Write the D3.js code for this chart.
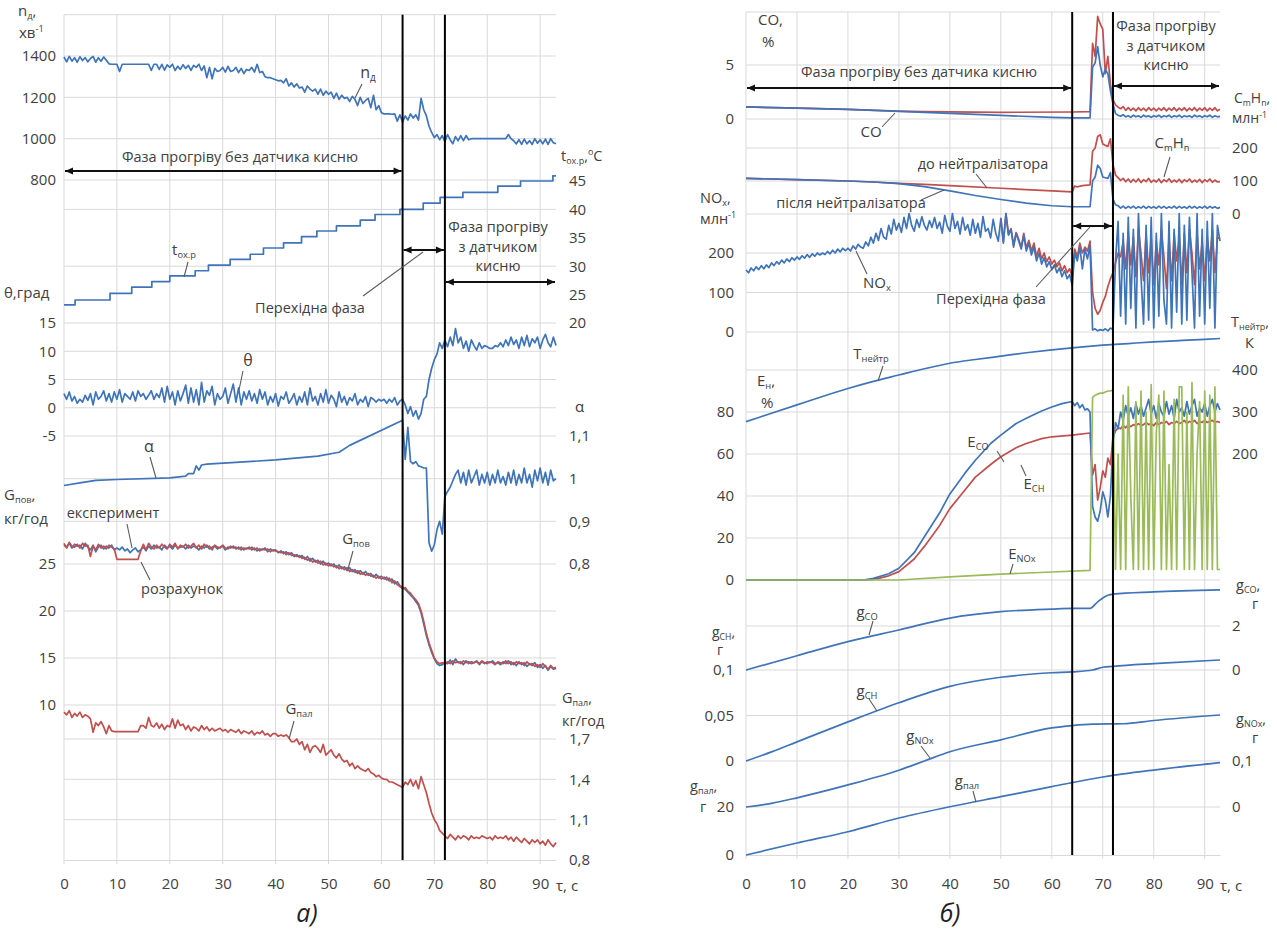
<!DOCTYPE html>
<html><head><meta charset="utf-8">
<script src="https://cdn.jsdelivr.net/npm/d3@7"></script>
<style>
body{margin:0;background:#fff}
svg text{font-family:"Open Sans",sans-serif}
</style></head>
<body><svg id="chart" width="1277" height="941"></svg>
<script>
// ================= DATA =================
const tauTicks=[0,10,20,30,40,50,60,70,80,90];
const phaseTimes=[64,72];
// ---- panel a) ----
const nTicks=[800,1000,1200,1400];
const tTicks=[20,25,30,35,40,45];
const thTicks=[-5,0,5,10,15];
const aTicks=[0.8,0.9,1,1.1];
const gTicks=[10,15,20,25];
const gpTicks=[0.8,1.1,1.4,1.7];
// n_д, 0.5 s step from 0 s
const nD=[1395,1372,1398,1375,1392,1370,1396,1378,1392,1372,
1388,1398,1370,1392,1375,1395,1380,1362,1360,1360,
1360,1325,1360,1360,1360,1360,1360,1360,1360,1360,
1360,1360,1360,1330,1360,1360,1335,1360,1332,1357,
1345,1360,1330,1350,1335,1358,1340,1355,1330,1355,
1345,1360,1330,1352,1295,1345,1290,1340,1325,1330,
1345,1322,1350,1325,1330,1345,1320,1340,1315,1335,
1330,1345,1322,1360,1320,1325,1300,1295,1295,1290,
1285,1280,1282,1270,1290,1255,1270,1250,1265,1245,
1250,1225,1255,1240,1230,1240,1215,1240,1210,1230,
1215,1225,1195,1220,1190,1210,1195,1200,1180,1205,
1190,1160,1200,1170,1185,1195,1150,1210,1140,1160,
1125,1120,1120,1120,1118,1120,1085,1115,1080,1110,
1090,1120,1100,1115,1090,1195,1140,1110,1060,1030,
1005,1020,995,1015,985,1020,995,975,1010,990,
1015,990,1015,995,1000,1000,1000,1000,1000,1000,
1000,1000,1000,1000,1000,1000,1000,1000,1020,1000,
990,975,995,972,998,975,990,972,1000,978,
995,975,998,972,1000,980,975];
// t_ох.р staircase
const tOxT=[0,2.1,8.7,12.8,16.6,20,24.8,27.3,31.4,35.2,37.7,41.5,44.9,47.8,51.5,56,58.8,63.5,67.9,71.1,75.4,82,86.3,92.4,93];
const tOxV=[23.2,24.05,25.2,26.3,27.3,28.3,29.2,30.2,31.2,32.1,33.2,34.1,35.2,36.2,37.1,38.1,39.1,40,41.1,42.1,43,44.1,45,45.9,45.9];
// θ, 0.5 s step
const theta=[2.5,1.5,2.8,1.2,2.0,0.8,1.5,1.0,2.2,1.3,
2.5,0.5,2.8,1.5,2.0,3.0,1.2,2.5,1.0,2.8,
1.5,3.2,1.0,2.5,2.0,1.5,2.8,1.2,3.0,2.0,
2.5,1.5,2.2,3.0,1.5,2.5,1.8,3.5,1.0,3.8,
1.5,2.8,0.5,3.0,1.2,2.5,4.0,0.8,3.5,1.0,
3.2,0.5,4.5,1.0,3.0,2.2,3.8,0.5,2.5,1.5,
2.0,3.5,0.8,2.5,4.2,1.0,3.5,0.5,2.8,1.5,
3.0,1.2,2.5,0.8,3.2,1.5,2.8,0.5,2.0,1.0,
2.5,0.3,2.0,1.5,2.8,0.8,1.5,2.5,0.5,2.0,
1.0,2.8,0.5,3.5,1.2,2.0,0.5,2.5,1.0,3.2,
0.8,2.2,1.5,0.2,2.8,1.0,2.0,0.5,1.8,1.2,
2.5,0.5,1.5,1.0,2.0,0.2,1.8,1.5,1.0,1.5,
1.2,1.5,0.8,1.5,1.0,1.8,0.5,1.2,1.5,0.5,
-1.0,0.2,-1.5,-0.5,-2.0,-1.0,1.5,2.0,5.0,7.0,
8.5,9.5,11.5,10.5,12.0,10.8,12.5,11.0,14.0,11.5,
12.5,10.5,11.8,10.0,12.0,11.0,10.2,11.5,10.5,11.0,
10.8,10.5,10.5,11.0,10.8,11.5,10.8,12.0,11.0,12.5,
11.2,12.0,10.5,12.5,11.0,12.8,10.8,12.2,11.5,12.5,
10.5,12.0,13.0,11.5,10.8,12.5,11.0];
// α: smooth part (τ, α) then 0.5 s from 64.5 s
const alphaSmooth=[[0,0.984],[3,0.99],[6,0.996],[10,0.998],[20,1.002],[23,1.006],[23.5,1.012],[24.5,1.012],[25,1.03],[25.5,1.02],[26,1.032],[27,1.034],[40,1.044],[48,1.053],[52,1.062],[54,1.078],[64,1.137]];
const alphaNoisy=[1.045,1.12,1.04,1.035,1.04,1.03,1.028,1.025,1.025,0.85,
0.83,0.845,0.88,0.9,0.87,0.958,0.97,0.98,0.995,1.01,
1.02,0.99,1.015,0.985,1.02,0.99,1.005,1.02,0.985,1.01,
0.99,1.015,0.985,1.01,0.99,1.02,0.99,1.005,0.985,1.015,
0.99,1.02,0.985,1.01,0.99,1.025,0.99,1.01,0.98,1.02,
0.995,1.025,0.99,1.015,0.985,1.02,0.995,1.0];
// G_пов experiment (blue) and calculation (red), 0.5 s
const gExp=[27.0,26.8,27.2,26.7,27.1,26.9,27.0,26.6,27.2,26.8,
26.5,27.0,26.3,26.8,27.0,26.6,26.9,26.7,27.0,26.5,
26.7,26.5,26.8,26.4,26.6,26.2,26.5,26.7,26.3,26.5,
26.8,26.4,26.9,26.6,27.0,26.7,26.8,26.5,27.0,26.7,
26.9,26.6,27.0,26.7,26.8,26.9,26.6,27.0,26.7,26.9,
26.8,26.5,26.9,26.7,27.0,26.6,26.8,26.9,26.6,26.8,
26.9,26.5,26.8,26.7,26.9,26.6,26.8,26.5,26.7,26.6,
26.8,26.5,26.7,26.4,26.6,26.5,26.7,26.3,26.6,26.4,
26.5,26.2,26.4,26.1,26.3,26.0,26.2,25.8,26.0,25.7,
25.9,25.5,25.8,25.3,25.6,25.2,25.4,25.0,25.3,24.9,
25.1,24.8,25.0,24.6,24.9,24.5,24.7,24.3,24.6,24.2,
24.4,24.0,24.3,23.9,24.2,23.8,24.0,23.6,23.9,23.5,
23.7,23.4,23.6,23.2,23.4,22.9,23.1,22.7,22.5,22.3,
22.0,21.7,21.4,21.0,20.6,19.8,18.6,17.4,16.4,15.6,
14.9,14.4,14.2,14.3,14.6,14.4,14.8,14.3,14.9,14.5,
14.6,14.3,14.7,14.4,14.6,14.5,14.7,14.3,14.6,14.4,
14.6,14.5,14.7,14.4,14.5,14.3,14.6,14.4,14.7,14.3,
14.5,14.2,14.6,14.3,14.5,14.1,14.4,14.2,14.5,14.0,
14.3,13.9,14.2,13.7,14.1,13.8,13.9];
const gCalc=[27.2,26.7,27.3,26.9,26.8,27.1,26.7,27.2,26.9,27.0,
25.8,26.9,26.5,27.1,26.7,26.9,26.6,27.0,26.8,26.6,
25.5,25.5,25.5,25.5,25.5,25.5,25.5,25.5,25.5,26.4,
27.1,26.5,27.2,26.8,26.6,27.0,26.7,27.1,26.8,26.6,
27.1,26.8,27.2,26.6,27.0,26.8,27.1,26.7,26.9,27.2,
26.7,27.0,26.6,27.1,26.8,26.9,26.5,27.0,26.8,26.7,
27.0,26.7,26.6,26.9,26.7,26.8,26.6,26.8,26.5,26.7,
26.6,26.8,26.5,26.7,26.4,26.6,26.5,26.6,26.3,26.5,
26.4,26.3,26.2,26.3,26.0,26.2,25.9,26.0,25.8,25.9,
25.6,25.7,25.4,25.6,25.2,25.4,25.1,25.3,24.9,25.1,
24.8,25.0,24.7,24.8,24.5,24.7,24.4,24.6,24.2,24.4,
24.1,24.3,23.9,24.1,23.8,24.0,23.7,23.8,23.5,23.7,
23.4,23.6,23.3,23.5,23.0,23.2,22.8,22.6,22.4,22.5,
22.1,21.9,21.5,21.2,20.8,20.0,18.9,17.6,16.6,15.8,
15.0,14.6,14.4,14.5,14.3,14.6,14.4,14.7,14.5,14.6,
14.4,14.7,14.5,14.6,14.4,14.5,14.6,14.4,14.7,14.5,
14.4,14.6,14.5,14.3,14.6,14.5,14.4,14.7,14.4,14.6,
14.3,14.6,14.4,14.5,14.2,14.6,14.3,14.4,14.1,14.3,
14.0,14.4,14.1,13.8,14.2,13.9,14.0];
// G_пал, 0.5 s
const gPal=[1.90,1.88,1.91,1.86,1.89,1.87,1.90,1.86,1.88,1.87,
1.85,1.75,1.82,1.80,1.83,1.79,1.74,1.80,1.76,1.755,
1.755,1.755,1.755,1.755,1.755,1.755,1.755,1.755,1.755,1.80,
1.80,1.78,1.86,1.80,1.79,1.82,1.78,1.81,1.77,1.80,
1.79,1.85,1.78,1.84,1.80,1.81,1.77,1.80,1.76,1.79,
1.78,1.76,1.80,1.77,1.79,1.76,1.78,1.76,1.77,1.78,
1.76,1.77,1.75,1.77,1.76,1.75,1.77,1.74,1.76,1.75,
1.74,1.76,1.73,1.75,1.74,1.76,1.73,1.74,1.72,1.74,
1.74,1.72,1.73,1.72,1.73,1.71,1.68,1.68,1.70,1.66,
1.68,1.62,1.66,1.60,1.64,1.65,1.63,1.60,1.66,1.58,
1.60,1.62,1.58,1.56,1.59,1.55,1.53,1.54,1.50,1.52,
1.48,1.50,1.48,1.47,1.46,1.48,1.45,1.44,1.42,1.43,
1.41,1.40,1.40,1.38,1.38,1.37,1.36,1.35,1.34,1.38,
1.36,1.40,1.35,1.39,1.33,1.42,1.36,1.30,1.22,1.15,
1.10,1.07,1.02,1.00,0.98,0.96,0.99,0.97,0.95,0.98,
0.96,0.98,0.97,0.95,0.98,0.96,0.97,0.96,0.98,0.97,
0.96,0.97,0.95,0.98,0.96,0.97,0.96,0.98,0.95,0.97,
0.94,0.97,0.95,0.93,0.96,0.94,0.92,0.95,0.93,0.95,
0.92,0.94,0.91,0.95,0.92,0.90,0.93];
// ---- panel б) ----
const coTicks=[0,5];
const chTicks=[0,100,200];
const noxTicks=[0,100,200];
const tnTicks=[200,300,400];
const eTicks=[0,20,40,60,80];
const gcoTicks=[0,2];
const gchTicks=[0,0.05,0.1];
const gnoxTicks=[0,0.1];
const gpalTicks=[0,20];
// CO, %: smooth part then 0.5 s from 68 s
const coAfterSmooth=[[0,1.12],[10,1.0],[20,0.9],[30,0.7],[40,0.52],[50,0.33],[60,0.15],[64,0.1],[67.5,0.1]];
const coBeforeSmooth=[[0,1.12],[10,1.0],[20,0.9],[30,0.72],[35,0.68],[50,0.62],[64,0.65],[67.5,0.68]];
const coAfterNoisy=[4.8,5.2,6.7,5.0,3.9,4.6,4.2,2.6,1.4,0.5,
0.35,0.25,0.4,0.2,0.3,0.15,0.35,0.2,0.3,0.15,
0.35,0.2,0.3,0.15,0.3,0.2,0.35,0.15,0.3,0.2,
0.35,0.15,0.3,0.2,0.35,0.15,0.3,0.2,0.3,0.15,
0.35,0.2,0.3,0.15,0.3,0.2,0.35,0.15,0.3,0.2,0.25];
const coBeforeNoisy=[7.0,5.8,9.5,8.8,8.3,4.2,5.8,3.2,1.8,1.3,
1.1,0.95,1.15,0.8,1.05,0.8,1.0,0.75,1.05,0.8,
1.0,0.75,1.05,0.8,1.0,0.75,1.0,0.8,1.05,0.75,
1.0,0.8,1.05,0.75,1.0,0.8,1.05,0.75,1.0,0.8,
1.05,0.75,1.0,0.8,1.05,0.75,1.0,0.8,1.05,0.75,0.9];
// CmHn, млн-1
const chAfterSmooth=[[0,108],[10,104],[20,100],[25,97],[30,92],[35,83],[40,70],[45,56],[50,44],[55,33],[60,25],[64,22],[67.5,22]];
const chBeforeSmooth=[[0,108],[10,104],[20,100],[25,97],[30,93],[35,90],[40,86],[50,78],[60,70],[64,67],[64.5,85],[65,82],[66,86],[67.5,88]];
const chAfterNoisy=[100,112,148,138,112,110,108,125,45,28,
25,18,24,17,23,18,24,17,22,18,
24,17,23,18,22,17,24,18,23,17,
22,18,24,17,23,18,22,17,24,18,
23,17,22,18,24,17,23,18,22,17,20];
const chBeforeNoisy=[190,200,235,240,212,208,205,228,150,118,
110,102,108,98,106,96,105,97,107,95,
104,98,108,96,103,97,106,95,104,98,
107,96,103,97,105,95,104,98,106,96,
103,97,105,95,104,98,106,96,103,97,98];
// NOx after converter (blue), 0.5 s from 0 s; before converter (red), 0.5 s from 50 s
const noxAfter=[157,150,162,155,165,158,168,160,170,163,
175,168,178,172,182,175,185,178,188,182,
190,184,193,187,196,189,198,192,200,195,
200,196,204,198,207,200,210,203,212,206,
212,205,218,210,222,215,212,228,218,240,
225,250,232,262,240,235,270,248,285,258,
275,252,290,262,300,270,255,285,265,292,
270,258,282,265,290,262,278,250,295,268,
255,300,262,280,248,290,258,272,245,285,
250,275,240,292,255,262,238,285,250,230,
288,225,300,245,260,215,250,230,210,245,
205,225,195,215,180,200,172,188,165,178,
158,170,150,162,140,155,135,145,118,200,
180,215,160,210,185,220,5,8,3,6,
4,8,3,10,6,180,280,40,250,20,
290,60,260,10,300,140,20,270,30,290,
10,250,40,300,80,20,280,10,260,50,
300,20,270,30,290,150,10,300,40,260,
20,280,60,300,10,270,230];
const noxBefore=[288,228,300,248,262,220,252,235,215,250,
212,232,205,225,192,212,185,200,178,190,
172,182,165,175,155,168,150,160,140,210,
190,225,200,215,205,230,100,60,45,55,
75,90,115,135,150,175,200,190,230,160,
250,170,240,140,260,200,130,250,150,240,
120,230,170,260,190,110,240,130,250,180,
240,120,250,150,260,200,120,250,160,230,
130,240,180,260,150,240,235];
// T_нейтр, K
const tNeutr=[[0,277],[5,297],[10,317],[15,337],[20,356],[25,373],[30,388],[35,403],[40,416],[45,425],[50,433],[55,441],[60,448],[65,454],[70,459],[75,463],[80,467],[85,470],[90,473],[93,475]];
// E_CO, E_CH, E_NOx, %
const eCOSmooth=[[0,0],[23,0],[25,0.8],[28,3],[30,5.6],[33,13],[35,20.6],[38,32],[40,41],[43,51],[45,57],[48,65],[50,69],[53,74.5],[55,77],[58,80.5],[60,82.4],[62,84],[64,85]];
const eCONoisy=[83,84.5,82,83.5,81,81.5,80,35,30,28,
33,42,38,30,40,65,75,72,80,76,
83,78,82,77,84,79,83,78,82,86,
79,83,77,84,80,78,85,79,83,77,
86,80,82,78,85,79,83,86,78,82,
80,84,78,83,86,80,84,81];
const eCHSmooth=[[0,0],[24,0],[26,0.8],[28,2],[30,4],[33,10],[35,16],[38,26],[40,34],[43,43],[45,49],[48,55],[50,58.7],[53,63],[55,65],[58,67.3],[60,68.2],[64,69],[67.5,70]];
const eCHNoisy=[50,55,38,44,52,49,58,55,68,71,
72.5,72,73.5,72.5,74,73,74,73.5,74.5,73.5,
74,75,74,74.5,73.5,75,74,75,74.5,75.5,
74,75,74.5,75.5,74.5,75,76,74.5,75.5,75,
76,74.5,75.5,75,76,75,75.5,76,75,75.5,75];
const eNOxSmooth=[[0,0],[30,0],[40,1.5],[50,2.8],[60,3.8],[67.5,4.6]];
const eNOxNoisy=[87,88,88.5,89,89,89.5,90,90,90.5,5,
60,5,88,5,92,40,5,85,5,90,
5,80,5,93,5,70,88,5,90,5,
55,5,86,5,92,92,5,80,5,94,
5,60,85,5,90,5,88,5,92,5,5];
// cumulative emissions, г
const gCO=[[0,0],[10,0.65],[20,1.29],[30,1.82],[40,2.36],[50,2.65],[60,2.77],[64,2.8],[67.5,2.8],[69,3.1],[71,3.4],[72,3.45],[80,3.55],[93,3.64]];
const gCH=[[0,0],[5,0.01],[10,0.021],[20,0.043],[30,0.064],[40,0.082],[50,0.092],[60,0.097],[64,0.098],[68,0.1],[70,0.103],[72,0.104],[80,0.107],[93,0.111]];
const gNOx=[[0,0],[5,0.008],[10,0.02],[20,0.048],[30,0.08],[35,0.1],[40,0.12],[50,0.146],[60,0.172],[64,0.177],[68,0.18],[74,0.181],[80,0.188],[93,0.2]];
const gPalR=[[0,0],[10,5],[20,9.7],[30,15.4],[40,20.1],[50,24.3],[60,28.5],[70,32.5],[80,35.4],[93,38.5]];

// ================= DRAW =================
const BLUE="#3f74b8", RED="#c0504d", GREEN="#9bbb59", GRID="#d9d9d9", TXT="#404040";
const svg=d3.select("#chart");
svg.append("rect").attr("width",1277).attr("height",941).attr("fill","#fff");
const seq=(t0,dt,vals)=>vals.map((v,i)=>[t0+i*dt,v]);
const fmt=d=>String(d).replace(".",",");

const defs=svg.append("defs");
defs.append("marker").attr("id","ah").attr("viewBox","0 0 10 10").attr("refX",10).attr("refY",5)
 .attr("markerWidth",11).attr("markerHeight",8).attr("markerUnits","userSpaceOnUse").attr("orient","auto-start-reverse")
 .append("path").attr("d","M0,0.5 L10,5 L0,9.5 z").attr("fill","#111");

function rich(g,x,y,parts,o={}){
  const size=o.size||15;
  const t=g.append("text").attr("x",x).attr("y",y).attr("font-size",size)
    .attr("fill",o.fill||TXT).attr("text-anchor",o.anchor||"start");
  if(o.italic) t.attr("font-style","italic");
  if(o.family) t.attr("font-family",o.family);
  let cur=0;
  parts.forEach(p=>{
    let s=p,k="";
    if(Array.isArray(p)){s=p[0];k=p[1];}
    const target=k==="sub"?size*0.2:(k==="sup"?-size*0.38:0);
    const ts=t.append("tspan").text(s).attr("dy",target-cur);
    if(k) ts.attr("font-size",size*0.62);
    cur=target;
  });
  return t;
}
function line(g,data,x,y,color,curve,w){
  g.append("path").datum(data).attr("fill","none").attr("stroke",color).attr("stroke-width",w||1.7)
   .attr("stroke-linejoin","round")
   .attr("d",d3.line().x(d=>x(d[0])).y(d=>y(d[1])).curve(curve||d3.curveLinear));
}
function lead(x1,y1,x2,y2){
  svg.append("line").attr("x1",x1).attr("y1",y1).attr("x2",x2).attr("y2",y2)
   .attr("stroke","#5a5a5a").attr("stroke-width",1.1);
}
function dbl(x1,x2,y){
  svg.append("line").attr("x1",x1+1).attr("x2",x2-1).attr("y1",y).attr("y2",y)
   .attr("stroke","#111").attr("stroke-width",1.8).attr("marker-start","url(#ah)").attr("marker-end","url(#ah)");
}
function yAxis(x,scale,ticks,side,pad){
  const ax=(side==="left"?d3.axisLeft(scale):d3.axisRight(scale)).tickValues(ticks).tickSize(0).tickPadding(pad).tickFormat(fmt);
  const g=svg.append("g").attr("transform",`translate(${x},0)`).call(ax);
  g.select(".domain").remove();
  g.selectAll("text").attr("font-size",15).attr("fill",TXT).attr("font-family","'Open Sans',sans-serif");
}
function xAxis(scale,y,pad){
  const g=svg.append("g").attr("transform",`translate(0,${y})`)
    .call(d3.axisBottom(scale).tickValues(tauTicks).tickSize(0).tickPadding(pad).tickFormat(d=>d));
  g.select(".domain").attr("stroke",GRID);
  g.selectAll("text").attr("font-size",15).attr("fill",TXT).attr("font-family","'Open Sans',sans-serif");
}
function grid(x,ys,top,bottom){
  const g=svg.append("g");
  ys.forEach(v=>g.append("line").attr("x1",x.range()[0]).attr("x2",x.range()[1]).attr("y1",v).attr("y2",v).attr("stroke",GRID));
  tauTicks.forEach(t=>g.append("line").attr("x1",x(t)).attr("x2",x(t)).attr("y1",top).attr("y2",bottom+4).attr("stroke",GRID));
}

// ---------- PANEL a) ----------
const xL=d3.scaleLinear([0,93],[64,556]);
const yN=d3.scaleLinear([800,1400],[180,56]);
const yT=d3.scaleLinear([20,45],[323,181]);
const yTh=d3.scaleLinear([-5,15],[436,323]);
const yA=d3.scaleLinear([0.8,1.1],[564,436]);
const yG=d3.scaleLinear([10,25],[705,564]);
const yGp=d3.scaleLinear([0.8,1.7],[860,739]);
const topL=yN(1600);
grid(xL,[topL,yN(1400),yN(1200),yN(1000),yN(800),yT(40),yT(30),yT(20),yTh(10),yTh(5),yTh(0),yTh(-5),yA(1),yA(0.9),yA(0.8),yG(20),yG(15),yG(10),yGp(1.7),yGp(1.4),yGp(1.1)],topL,yGp(0.8));
xAxis(xL,yGp(0.8),18);
yAxis(xL(0),yN,nTicks,"left",8);
yAxis(xL(0),yTh,thTicks,"left",8);
yAxis(xL(0),yG,gTicks,"left",8);
yAxis(xL(93),yT,tTicks,"right",13);
yAxis(xL(93),yA,aTicks,"right",13);
yAxis(xL(93),yGp,gpTicks,"right",13);

const gA=svg.append("g");
line(gA,seq(0,0.5,nD),xL,yN,BLUE);
const tOxData=tOxT.map((t,i)=>[t,tOxV[i]]);
line(gA,tOxData,xL,yT,BLUE,d3.curveStepAfter);
line(gA,seq(0,0.5,theta),xL,yTh,BLUE);
line(gA,alphaSmooth.concat(seq(64.5,0.5,alphaNoisy)),xL,yA,BLUE);
line(gA,seq(0,0.5,gExp),xL,yG,BLUE);
line(gA,seq(0,0.5,gCalc),xL,yG,RED);
line(gA,seq(0,0.5,gPal),xL,yGp,RED);

phaseTimes.forEach(t=>svg.append("line").attr("x1",xL(t)).attr("x2",xL(t)).attr("y1",topL).attr("y2",yGp(0.8)).attr("stroke","#000").attr("stroke-width",2));

// axis titles a)
rich(svg,18,16,["n",["д","sub"],","]);
rich(svg,19,38,["хв",["-1","sup"]]);
rich(svg,561,161,["t",["ох.р","sub"],",",["о","sup"],"С"],{size:14.5});
rich(svg,4,298,["θ,град"]);
rich(svg,575,412,["α"]);
rich(svg,4,500,["G",["пов","sub"],","]);
rich(svg,4,524,["кг/год"]);
rich(svg,562,703,["G",["пал","sub"],","],{size:14.5});
rich(svg,562,726,["кг/год"],{size:14.5});
rich(svg,556,891,["τ, с"]);
rich(svg,307,922,["а)"],{size:25,italic:true,family:"'Liberation Serif',serif",fill:"#222",anchor:"middle"});

// annotations a)
rich(svg,240,162,["Фаза прогріву без датчика кисню"],{anchor:"middle",size:14.5});
dbl(xL(0),xL(64),171);
rich(svg,498,232,["Фаза прогріву"],{anchor:"middle",size:14.5});
rich(svg,498,252,["з датчиком"],{anchor:"middle",size:14.5});
rich(svg,498,271,["кисню"],{anchor:"middle",size:14.5});
dbl(xL(72),xL(93),282);
dbl(xL(64),xL(72),250);
rich(svg,310,313,["Перехідна фаза"],{anchor:"middle",size:14.5});
lead(363,296,423,252);
rich(svg,368,78,["n",["д","sub"]],{size:16,anchor:"middle"});
lead(362,84,355,98);
rich(svg,184,255,["t",["ох.р","sub"]],{size:15,anchor:"middle"});
lead(188,262,184,277);
rich(svg,248,366,["θ"],{size:16,anchor:"middle"});
lead(243,371,239,390);
rich(svg,149,452,["α"],{size:16,anchor:"middle"});
lead(150,457,156,478);
rich(svg,113,518,["експеримент"],{anchor:"middle",size:14.5});
lead(127,524,132,548);
rich(svg,182,594,["розрахунок"],{anchor:"middle",size:14.5});
lead(150,580,141,562);
rich(svg,356,544,["G",["пов","sub"]],{anchor:"middle",size:15});
lead(353,551,348,569);
rich(svg,299,714,["G",["пал","sub"]],{anchor:"middle",size:15});
lead(294,721,289,739);

// ---------- PANEL б) ----------
const xR=d3.scaleLinear([0,93],[746,1220]);
const yCO=d3.scaleLinear([0,5],[119,65]);
const yCH=d3.scaleLinear([0,200],[214,148]);
const yNOx=d3.scaleLinear([0,200],[332,253]);
const yTN=d3.scaleLinear([200,400],[454,370]);
const yE=d3.scaleLinear([0,80],[580,412]);
const ygCO=d3.scaleLinear([0,2],[670,626]);
const ygCH=d3.scaleLinear([0,0.1],[761,670]);
const ygNOx=d3.scaleLinear([0,0.1],[807,761]);
const ygP=d3.scaleLinear([0,20],[855,807]);
const topR=12;
grid(xR,[topR,yCO(5),yCO(0),yCH(200),yCH(100),yCH(0),yNOx(200),yNOx(100),yNOx(0),yTN(400),yE(80),yE(60),yE(40),yE(20),yE(0),ygCO(2),ygCO(0),ygCH(0.05),ygCH(0),ygNOx(0)],topR,ygP(0));
xAxis(xR,ygP(0),23);
yAxis(xR(0),yCO,coTicks,"left",12);
yAxis(xR(0),yNOx,noxTicks,"left",12);
yAxis(xR(0),yE,eTicks,"left",12);
yAxis(xR(0),ygCH,gchTicks,"left",12);
yAxis(xR(0),ygP,gpalTicks,"left",12);
yAxis(xR(93),yCH,chTicks,"right",12);
yAxis(xR(93),yTN,tnTicks,"right",12);
yAxis(xR(93),ygCO,gcoTicks,"right",12);
yAxis(xR(93),ygNOx,gnoxTicks,"right",12);

const gB=svg.append("g");
line(gB,coBeforeSmooth.concat(seq(68,0.5,coBeforeNoisy)),xR,yCO,RED);
line(gB,coAfterSmooth.concat(seq(68,0.5,coAfterNoisy)),xR,yCO,BLUE);
line(gB,chBeforeSmooth.concat(seq(68,0.5,chBeforeNoisy)),xR,yCH,RED);
line(gB,chAfterSmooth.concat(seq(68,0.5,chAfterNoisy)),xR,yCH,BLUE);
line(gB,seq(50,0.5,noxBefore),xR,yNOx,RED);
line(gB,seq(0,0.5,noxAfter),xR,yNOx,BLUE);
line(gB,tNeutr,xR,yTN,BLUE,d3.curveMonotoneX);
line(gB,eCHSmooth.concat(seq(68,0.5,eCHNoisy)),xR,yE,RED);
line(gB,eCOSmooth.concat(seq(64.5,0.5,eCONoisy)),xR,yE,BLUE);
line(gB,eNOxSmooth.concat(seq(68,0.5,eNOxNoisy)),xR,yE,GREEN);
line(gB,gCO,xR,ygCO,BLUE,d3.curveMonotoneX);
line(gB,gCH,xR,ygCH,BLUE,d3.curveMonotoneX);
line(gB,gNOx,xR,ygNOx,BLUE,d3.curveMonotoneX);
line(gB,gPalR,xR,ygP,BLUE,d3.curveMonotoneX);

phaseTimes.forEach(t=>svg.append("line").attr("x1",xR(t)).attr("x2",xR(t)).attr("y1",topR).attr("y2",ygP(0)).attr("stroke","#000").attr("stroke-width",2));

// axis titles б)
rich(svg,758,25,["CO,"]);
rich(svg,762,47,["%"]);
rich(svg,1234,103,["C",["m","sub"],"H",["n","sub"],","],{size:14});
rich(svg,1232,123,["млн",["-1","sup"]],{size:14});
rich(svg,700,203,["NO",["x","sub"],","],{size:14.5});
rich(svg,700,224,["млн",["-1","sup"]],{size:14.5});
rich(svg,1231,327,["T",["нейтр","sub"],","],{size:14.5});
rich(svg,1245,348,["К"],{size:14.5});
rich(svg,757,386,["E",["н","sub"],","]);
rich(svg,761,408,["%"]);
rich(svg,1236,590,["g",["CO","sub"],","],{size:14.5});
rich(svg,1252,609,["г"],{size:14.5});
rich(svg,712,637,["g",["CH","sub"],","],{size:14});
rich(svg,717,655,["г"],{size:14});
rich(svg,1236,724,["g",["NOx","sub"],","],{size:14.5});
rich(svg,1252,743,["г"],{size:14.5});
rich(svg,690,791,["g",["пал","sub"],","],{size:14.5});
rich(svg,700,812,["г"],{size:14.5});
rich(svg,1220,891,["τ, с"]);
rich(svg,950,922,["б)"],{size:25,italic:true,family:"'Liberation Serif',serif",fill:"#222",anchor:"middle"});

// annotations б)
rich(svg,919,77,["Фаза прогріву без датчика кисню"],{anchor:"middle",size:14.5});
dbl(xR(0),xR(64),88);
rich(svg,1166,31,["Фаза прогріву"],{anchor:"middle",size:14.5});
rich(svg,1166,51,["з датчиком"],{anchor:"middle",size:14.5});
rich(svg,1166,70,["кисню"],{anchor:"middle",size:14.5});
dbl(xR(72),xR(93),86);
dbl(xR(64),xR(72),226);
rich(svg,991,304,["Перехідна фаза"],{anchor:"middle",size:14.5});
lead(1036,287,1090,227);
rich(svg,871,137,["CO"],{anchor:"middle",size:15});
lead(882,127,895,113);
rich(svg,1172,148,["C",["m","sub"],"H",["n","sub"]],{anchor:"middle",size:15});
lead(1170,157,1164,177);
rich(svg,983,169,["до нейтралізатора"],{anchor:"middle",size:14.5});
lead(976,174,987,188);
rich(svg,851,208,["після нейтралізатора"],{anchor:"middle",size:14.5});
lead(921,200,944,190);
rich(svg,877,288,["NO",["x","sub"]],{anchor:"middle",size:15});
lead(867,274,856,251);
rich(svg,871,359,["T",["нейтр","sub"]],{anchor:"middle",size:15});
lead(883,366,878,381);
rich(svg,978,447,["E",["CO","sub"]],{anchor:"middle",size:15});
lead(997,451,1004,462);
rich(svg,1034,489,["E",["CH","sub"]],{anchor:"middle",size:15});
lead(1026,476,1021,465);
rich(svg,1022,559,["E",["NOx","sub"]],{anchor:"middle",size:15});
lead(1013,564,1010,574);
rich(svg,867,617,["g",["CO","sub"]],{anchor:"middle",size:15});
lead(873,621,869,635);
rich(svg,867,696,["g",["CH","sub"]],{anchor:"middle",size:15});
lead(869,699,877,711);
rich(svg,920,741,["g",["NOx","sub"]],{anchor:"middle",size:15});
lead(921,746,930,758);
rich(svg,967,786,["g",["пал","sub"]],{anchor:"middle",size:15});
lead(973,791,976,802);
</script></body></html>
